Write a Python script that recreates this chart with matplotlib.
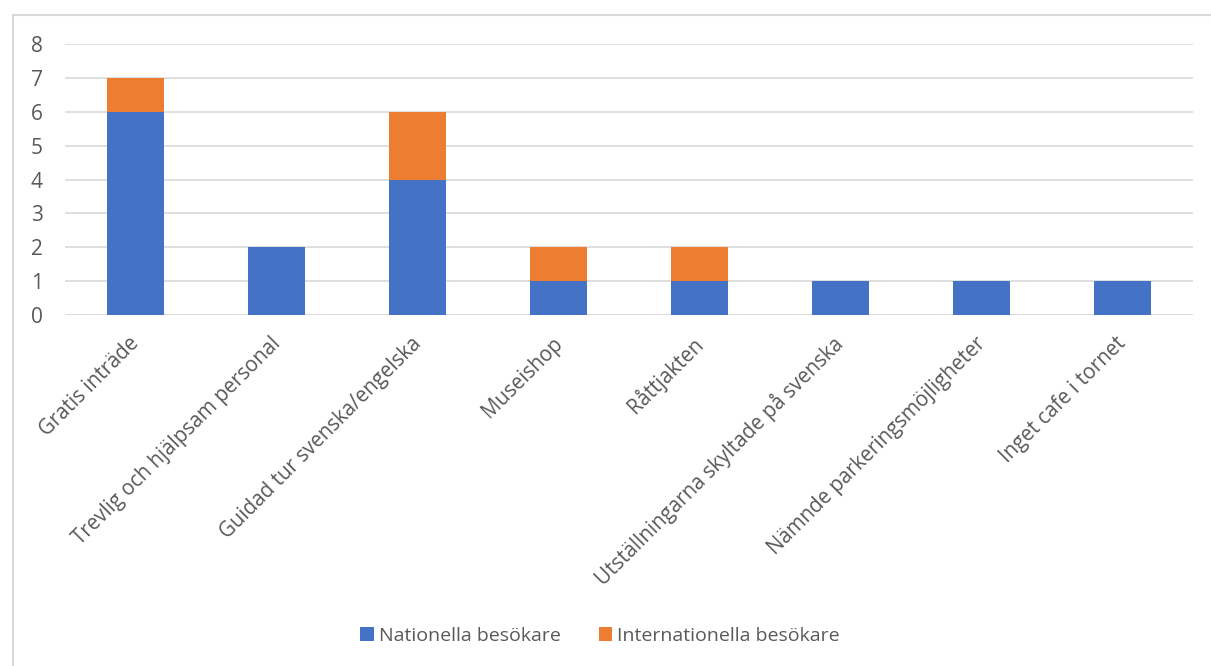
import matplotlib.pyplot as plt
from matplotlib.lines import Line2D
from matplotlib.transforms import ScaledTranslation

# --- dane ---
kategorie = ['Gratis inträde', 'Trevlig och hjälpsam personal', 'Guidad tur svenska/engelska',
             'Museishop', 'Råttjakten', 'Utställningarna skyltade på svenska',
             'Nämnde parkeringsmöjligheter', 'Inget cafe i tornet']
nationella = [6, 2, 4, 1, 1, 1, 1, 1]
internationella = [1, 0, 2, 1, 1, 0, 0, 0]
serie_namn = ['Nationella besökare', 'Internationella besökare']
y_ticks = [0, 1, 2, 3, 4, 5, 6, 7, 8]

plt.rcParams['font.family'] = ['Open Sans', 'DejaVu Sans']
tekst_kolor = '#595959'

fig = plt.figure(figsize=(12.11, 6.66), dpi=100)
ax = fig.add_axes([65 / 1211, 1 - 315 / 666, (1193 - 65) / 1211, (315 - 44) / 666])

x = range(len(kategorie))
ax.bar(x, nationella, width=0.4, color='#4472C4', label=serie_namn[0], zorder=3)
ax.bar(x, internationella, width=0.4, bottom=nationella, color='#ED7D31',
       label=serie_namn[1], zorder=3)

ax.set_xlim(-0.5, len(kategorie) - 0.5)
ax.set_ylim(0, 8)
ax.set_yticks(y_ticks)
ax.yaxis.grid(True, color='#D9D9D9', linewidth=1.2, zorder=0)
for s in ax.spines.values():
    s.set_visible(False)
ax.axhline(0, color='#D9D9D9', linewidth=1.2, zorder=2)

# etykiety kategorii jako zwykłe teksty (żeby przesunąć je lekko w prawo)
ax.set_xticks(list(x))
ax.set_xticklabels([])
ax.tick_params(axis='x', length=0)
przesuniecie = ScaledTranslation(8 / 100, -18 / 100, fig.dpi_scale_trans)
for i, nazwa in enumerate(kategorie):
    ax.text(i, 0, nazwa, transform=ax.get_xaxis_transform() + przesuniecie,
            rotation=45, ha='right', va='top', fontsize=14.8, color=tekst_kolor)
ax.tick_params(axis='y', length=0, pad=16, labelsize=15, labelcolor=tekst_kolor)

fig.legend(loc='center', bbox_to_anchor=(600 / 1211, 1 - 636 / 666), ncol=2, frameon=False,
           fontsize=14, labelcolor=tekst_kolor, handlelength=0.7, handleheight=0.7,
           handletextpad=0.26, columnspacing=1.95)

# ramka wykresu (tylko góra i lewa strona widoczne)
fx, fy = 12.5 / 1211, 1 - 14.5 / 666
fig.add_artist(Line2D([fx, 1], [fy, fy], transform=fig.transFigure, color='#D9D9D9', linewidth=1.5))
fig.add_artist(Line2D([fx, fx], [0, fy], transform=fig.transFigure, color='#D9D9D9', linewidth=1.5))

plt.savefig('out.png', dpi=100)
